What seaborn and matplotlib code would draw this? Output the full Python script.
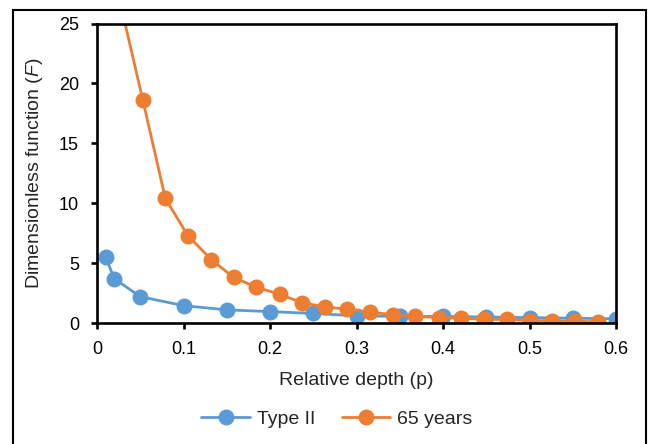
import numpy as np
import pandas as pd
import matplotlib
matplotlib.use("Agg")
import matplotlib.pyplot as plt
import seaborn as sns
from matplotlib.patches import Rectangle
from matplotlib.ticker import FuncFormatter

# data
type2_depth = [0.01, 0.02, 0.05, 0.10, 0.15, 0.20, 0.25, 0.30, 0.35, 0.40, 0.45, 0.50, 0.55, 0.60]
type2_F = [5.5, 3.7, 2.2, 1.45, 1.1, 0.95, 0.8, 0.6, 0.55, 0.55, 0.5, 0.45, 0.4, 0.35]

y65_depth = [0.026, 0.053, 0.079, 0.105, 0.132, 0.158, 0.184, 0.211, 0.237, 0.263, 0.289,
             0.316, 0.342, 0.368, 0.395, 0.421, 0.447, 0.474, 0.500, 0.526, 0.553, 0.579]
y65_F = [27.0, 18.6, 10.4, 7.3, 5.3, 3.8, 3.0, 2.4, 1.7, 1.35, 1.15,
         0.9, 0.7, 0.55, 0.45, 0.4, 0.3, 0.3, 0.2, 0.2, 0.15, 0.1]

x_ticks = [0, 0.1, 0.2, 0.3, 0.4, 0.5, 0.6]
y_ticks = [0, 5, 10, 15, 20, 25]

sns.set_style("ticks")
plt.rcParams['font.family'] = ['Liberation Sans', 'DejaVu Sans']
plt.rcParams['mathtext.fontset'] = 'custom'
plt.rcParams['mathtext.rm'] = 'Liberation Sans'
plt.rcParams['mathtext.it'] = 'Liberation Sans:italic'

df = pd.concat([
    pd.DataFrame({'depth': type2_depth, 'F': type2_F, 'series': 'Type II'}),
    pd.DataFrame({'depth': y65_depth, 'F': y65_F, 'series': '65 years'}),
])

fig = plt.figure(figsize=(6.48, 4.44), dpi=100)
ax = fig.add_axes([0.1497, 0.2725, 0.801, 0.6745])

#outer chart frame (bottom edge falls outside the image)
fig.patches.append(Rectangle((13/648, -0.1), 633/648, 1.1 - 10/444, transform=fig.transFigure,
                             fill=False, edgecolor='black', linewidth=1.5))

palette = {'Type II': '#5B9BD5', '65 years': '#ED7D31'}
sns.lineplot(data=df, x='depth', y='F', hue='series', palette=palette, ax=ax,
             marker='o', markersize=11.5, markeredgewidth=0, linewidth=2.0, sort=False)

ax.set_xlim(0, 0.6)
ax.set_ylim(0, 25)
ax.set_xticks(x_ticks)
ax.set_yticks(y_ticks)
ax.xaxis.set_major_formatter(FuncFormatter(lambda v, p: '0' if v == 0 else f'{v:g}'))
for s in ax.spines.values():
    s.set_visible(True)
    s.set_linewidth(1.9)
    s.set_color('black')
ax.tick_params(axis='both', direction='out', length=4, width=1.9, labelsize=13, colors='black')
ax.tick_params(axis='y', pad=9)
ax.tick_params(axis='x', pad=9)
ax.set_xlabel('Relative depth (p)', fontsize=14, labelpad=10)
ax.set_ylabel('Dimensionless function ($\\mathit{F}$)', fontsize=14, labelpad=10)

handles, labels = ax.get_legend_handles_labels()
ax.legend(handles, labels, loc='center', bbox_to_anchor=(337/648, 1 - 419/444),
          bbox_transform=fig.transFigure, ncol=2, frameon=False, fontsize=14,
          handlelength=2.5, handletextpad=0.36, columnspacing=1.35)

plt.savefig('out.png', dpi=100)
